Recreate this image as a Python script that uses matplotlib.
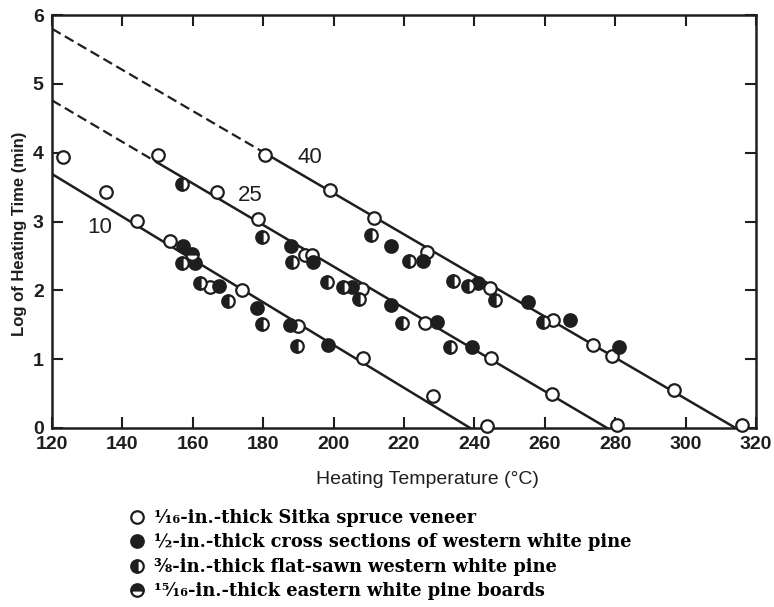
import matplotlib.pyplot as plt

# points (temperature in C, log10 of heating time in min)
sitka_x = [123.0, 135.3, 144.2, 150.2, 153.5, 164.9, 166.8, 173.9, 178.6, 180.5,
           190.0, 191.9, 193.8, 199.0, 208.0, 208.4, 211.5, 226.0, 226.4, 228.3,
           243.5, 244.4, 244.6, 262.0, 262.2, 273.6, 279.0, 280.6, 296.7, 315.9]
sitka_y = [3.93, 3.43, 3.01, 3.96, 2.72, 2.05, 3.43, 2.00, 3.04, 3.97,
           1.48, 2.51, 2.52, 3.46, 2.02, 1.01, 3.05, 1.53, 2.55, 0.47,
           0.03, 2.04, 1.02, 0.50, 1.57, 1.20, 1.04, 0.04, 0.55, 0.04]

cross_x = [157.3, 160.6, 167.4, 178.2, 187.6, 187.8, 194.2, 198.5, 205.1, 216.2,
           216.2, 225.5, 229.3, 239.4, 241.1, 255.3, 267.2, 281.2]
cross_y = [2.64, 2.40, 2.06, 1.75, 1.49, 2.65, 2.41, 1.20, 2.05, 1.78,
           2.64, 2.42, 1.54, 1.17, 2.11, 1.83, 1.57, 1.18]

flat_x = [156.8, 156.8, 162.0, 170.1, 179.6, 179.6, 188.1, 189.5, 198.0, 202.6,
          207.3, 210.5, 219.3, 221.5, 233.1, 233.8, 238.3, 245.9, 259.6]
flat_y = [3.55, 2.39, 2.11, 1.84, 1.51, 2.78, 2.41, 1.19, 2.12, 2.05,
          1.87, 2.81, 1.52, 2.42, 1.18, 2.13, 2.07, 1.86, 1.54]

boards_x = [159.7]
boards_y = [2.53]

# fitted lines: value at 120 C, temperature where log time = 0, end of dashed part
line_names = ['10', '25', '40']
line_y120 = [3.69, 4.76, 5.80]
line_t0 = [238.8, 277.7, 314.2]
line_dash_end = [120.0, 150.0, 181.0]
line_label_x = [133.6, 176.3, 193.3]
line_label_y = [2.91, 3.38, 3.93]

legend_labels = ['\u00b9\u2044\u2081\u2086-in.-thick Sitka spruce veneer',
                 '\u00bd-in.-thick cross sections of western white pine',
                 '\u215c-in.-thick flat-sawn western white pine',
                 '\u00b9\u2075\u2044\u2081\u2086-in.-thick eastern white pine boards']

ink = '#1e1e1e'

fig = plt.figure(figsize=(7.74, 6.07), dpi=100)
ax = fig.add_axes([52 / 774, 1 - 428 / 607, 704 / 774, 413 / 607])


def line_y(i, t):
    return line_y120[i] * (line_t0[i] - t) / (line_t0[i] - 120.0)


for i in range(3):
    d0 = line_dash_end[i]
    if d0 > 120:
        ax.plot([120, d0], [line_y(i, 120), line_y(i, d0)], color=ink, lw=1.6,
                dashes=(4.5, 2.2), solid_capstyle='butt')
    ax.plot([d0, line_t0[i]], [line_y(i, d0), 0], color=ink, lw=1.8)
    ax.text(line_label_x[i], line_label_y[i], line_names[i], fontsize=16,
            family='Liberation Sans', ha='center', va='center', color=ink)

mk = dict(ls='none', marker='o', ms=9, mew=1.6, color=ink, mec=ink,
          markerfacecoloralt='white', clip_on=False, zorder=3)
h1, = ax.plot(sitka_x, sitka_y, mfc='white', **mk)
h2, = ax.plot(cross_x, cross_y, mfc=ink, **mk)
h3, = ax.plot(flat_x, flat_y, fillstyle='left', **mk)
h4, = ax.plot(boards_x, boards_y, fillstyle='top', **mk)

ax.set_xlim(120, 320)
ax.set_ylim(0, 6)
ax.set_xticks(range(120, 321, 20))
ax.set_yticks(range(0, 7))
ax.tick_params(direction='in', top=True, right=True, length=8, width=1.5,
               color=ink, labelsize=14, pad=6)
for lab in ax.get_xticklabels() + ax.get_yticklabels():
    lab.set_family('Liberation Sans')
    lab.set_fontweight('bold')
    lab.set_color(ink)
for s in ax.spines.values():
    s.set_linewidth(1.8)
    s.set_color(ink)

ax.set_xlabel('Heating Temperature (\u00b0C)', fontsize=14,
              family='Liberation Sans', color=ink)
ax.xaxis.set_label_coords(0.534, -0.105)
ax.set_ylabel('Log of Heating Time (min)', fontsize=12, fontweight='bold',
              family='Liberation Sans', color=ink)
ax.yaxis.set_label_coords(-0.036, 0.47)

fig.legend([h1, h2, h3, h4], legend_labels, loc='upper left',
           bbox_to_anchor=(128 / 774, 1 - 509 / 607), frameon=False,
           handlelength=1.0, handletextpad=0.45, labelspacing=0.36,
           borderpad=0, borderaxespad=0,
           prop=dict(family=['DejaVu Serif', 'Liberation Serif'],
                     weight='bold', size=12.8))

fig.savefig('out.png', dpi=100)
